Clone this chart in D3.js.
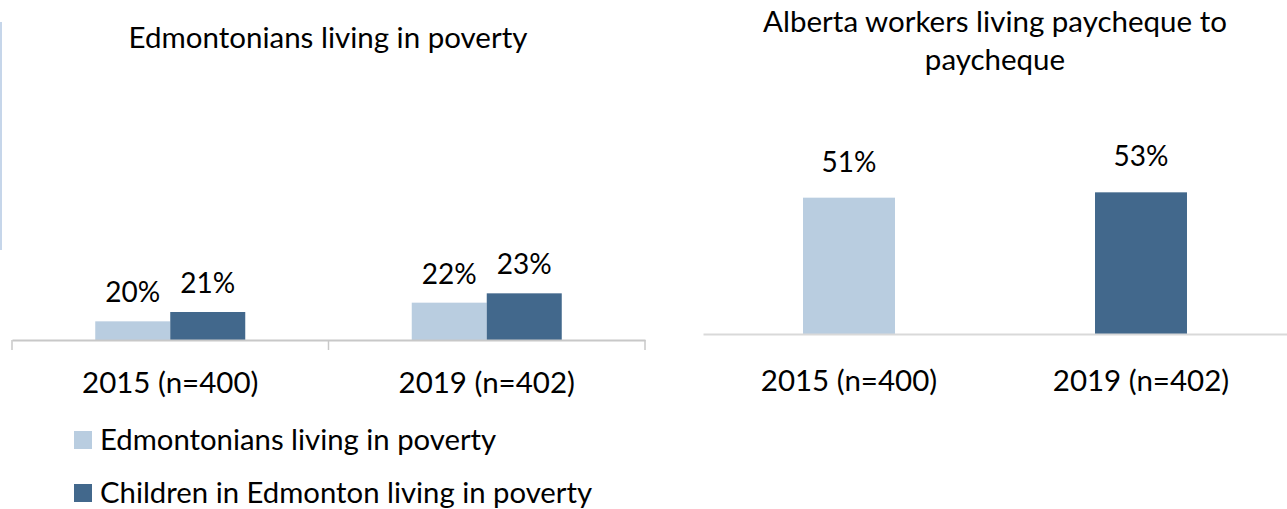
<!DOCTYPE html>
<html>
<head>
<meta charset="utf-8">
<script src="https://cdn.jsdelivr.net/npm/d3@7"></script>
<style>
  body { margin: 0; background: #fff; }
  text { font-family: Lato, "Open Sans", sans-serif; fill: #000; }
</style>
</head>
<body>
<div id="chart"></div>
<script>
// data
var categories = ["2015 (n=400)", "2019 (n=402)"];
var seriesNames = ["Edmontonians living in poverty", "Children in Edmonton living in poverty"];
var povertyAll = [20, 22];
var povertyKids = [21, 23];
var paycheque = [51, 53];
var colors = ["#b9cde0", "#42688c"];

var svg = d3.select("#chart")
  .append("svg")
  .attr("width", 1287)
  .attr("height", 509);

// faint border line on the left edge
svg.append("line")
  .attr("x1", 1).attr("x2", 1)
  .attr("y1", 22).attr("y2", 250)
  .attr("stroke", "#c6d6ea")
  .attr("stroke-width", 2);

// ---- left chart: Edmontonians living in poverty ----
var left = svg.append("g");

left.append("text")
  .attr("x", 328).attr("y", 48)
  .attr("text-anchor", "middle")
  .style("font-size", "29.5px")
  .text("Edmontonians living in poverty");

var x0 = d3.scaleBand().domain(categories).range([12, 645]);
var x1 = d3.scaleBand().domain(seriesNames).range([0, x0.bandwidth()]).paddingOuter(1.11).paddingInner(0);
var yL = d3.scaleLinear().domain([18, 30]).range([340, 228]);

var leftData = [];
categories.forEach(function(c, i) {
  leftData.push({ cat: c, s: seriesNames[0], v: povertyAll[i], col: colors[0] });
  leftData.push({ cat: c, s: seriesNames[1], v: povertyKids[i], col: colors[1] });
});

left.selectAll("rect.bar")
  .data(leftData)
  .enter()
  .append("rect")
  .attr("class", "bar")
  .attr("x", function(d) { return x0(d.cat) + x1(d.s); })
  .attr("width", x1.bandwidth())
  .attr("y", function(d) { return yL(d.v); })
  .attr("height", function(d) { return 340 - yL(d.v); })
  .attr("fill", function(d) { return d.col; });

left.selectAll("text.val")
  .data(leftData)
  .enter()
  .append("text")
  .attr("class", "val")
  .attr("x", function(d) { return x0(d.cat) + x1(d.s) + x1.bandwidth() / 2; })
  .attr("y", function(d) { return yL(d.v) - 19; })
  .attr("text-anchor", "middle")
  .style("font-size", "28px")
  .text(function(d) { return d.v + "%"; });

var axisL = left.append("g")
  .attr("transform", "translate(0,340)")
  .call(d3.axisBottom(x0).tickSize(0).tickFormat(""));
axisL.select(".domain").attr("stroke", "#c8c8c8").attr("stroke-width", 2);
axisL.selectAll(".tick").remove();

// separator ticks between categories
var edges = [12, x0(categories[1]), 645];
left.selectAll("line.sep")
  .data(edges)
  .enter()
  .append("line")
  .attr("class", "sep")
  .attr("x1", function(d) { return d; })
  .attr("x2", function(d) { return d; })
  .attr("y1", 340).attr("y2", 350)
  .attr("stroke", "#c8c8c8")
  .attr("stroke-width", 1.5);

left.selectAll("text.cat")
  .data(categories)
  .enter()
  .append("text")
  .attr("class", "cat")
  .attr("x", function(d) { return x0(d) + x0.bandwidth() / 2; })
  .attr("y", 393)
  .attr("text-anchor", "middle")
  .style("font-size", "29.5px")
  .text(function(d) { return d; });

// legend
var legend = left.selectAll("g.leg")
  .data(seriesNames)
  .enter()
  .append("g")
  .attr("class", "leg")
  .attr("transform", function(d, i) { return "translate(74," + (431 + i * 53) + ")"; });

legend.append("rect")
  .attr("width", 18).attr("height", 18)
  .attr("fill", function(d, i) { return colors[i]; });

legend.append("text")
  .attr("x", 26).attr("y", 19)
  .style("font-size", "29.3px")
  .text(function(d) { return d; });

// ---- right chart: Alberta workers living paycheque to paycheque ----
var right = svg.append("g");

right.append("text")
  .attr("x", 995).attr("y", 32)
  .attr("text-anchor", "middle")
  .style("font-size", "29.5px")
  .text("Alberta workers living paycheque to");
right.append("text")
  .attr("x", 995).attr("y", 70)
  .attr("text-anchor", "middle")
  .style("font-size", "29.5px")
  .text("paycheque");

var xR = d3.scaleBand().domain(categories).range([703, 1287]).paddingInner(0.685).paddingOuter(0.3425);
var yR = d3.scaleLinear().domain([0, 52]).range([334, 195]);

right.selectAll("rect.bar")
  .data(categories)
  .enter()
  .append("rect")
  .attr("class", "bar")
  .attr("x", function(d) { return xR(d); })
  .attr("width", xR.bandwidth())
  .attr("y", function(d, i) { return yR(paycheque[i]); })
  .attr("height", function(d, i) { return 334 - yR(paycheque[i]); })
  .attr("fill", function(d, i) { return colors[i]; });

right.selectAll("text.val")
  .data(categories)
  .enter()
  .append("text")
  .attr("class", "val")
  .attr("x", function(d) { return xR(d) + xR.bandwidth() / 2; })
  .attr("y", function(d, i) { return yR(paycheque[i]) - 26; })
  .attr("text-anchor", "middle")
  .style("font-size", "28px")
  .text(function(d, i) { return paycheque[i] + "%"; });

var axisR = right.append("g")
  .attr("transform", "translate(0,334)")
  .call(d3.axisBottom(xR).tickSize(0).tickFormat(""));
axisR.select(".domain").attr("stroke", "#d9d9d9").attr("stroke-width", 2);
axisR.selectAll(".tick").remove();

right.selectAll("text.cat")
  .data(categories)
  .enter()
  .append("text")
  .attr("class", "cat")
  .attr("x", function(d) { return xR(d) + xR.bandwidth() / 2; })
  .attr("y", 391)
  .attr("text-anchor", "middle")
  .style("font-size", "29.5px")
  .text(function(d) { return d; });
</script>
</body>
</html>
